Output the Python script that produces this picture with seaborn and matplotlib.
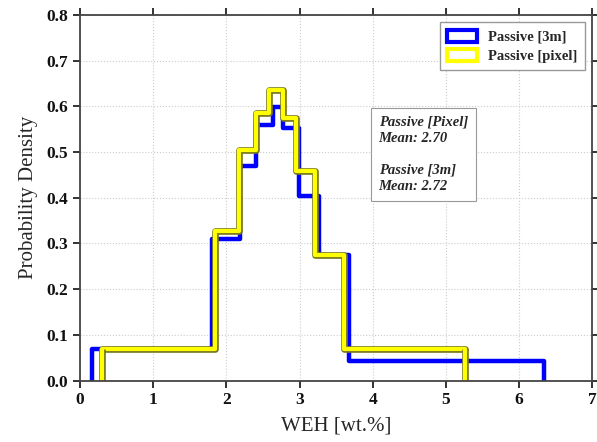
import numpy as np
import pandas as pd
import seaborn as sns
import matplotlib.pyplot as plt
import matplotlib.patheffects as pe
from matplotlib.patches import Patch

# bin edges and probability densities
edges_3m = [0.16, 1.80, 2.18, 2.41, 2.64, 2.78, 2.99, 3.26, 3.67, 6.34]
dens_3m = [0.070, 0.310, 0.470, 0.560, 0.598, 0.552, 0.405, 0.275, 0.042]
edges_pix = [0.30, 1.85, 2.17, 2.40, 2.58, 2.78, 2.95, 3.21, 3.61, 5.26]
dens_pix = [0.070, 0.328, 0.505, 0.585, 0.636, 0.575, 0.458, 0.275, 0.068]
mean_pix = 2.70
mean_3m = 2.72

def centers(e):
    e = np.asarray(e)
    return (e[:-1] + e[1:]) / 2

df3 = pd.DataFrame({'WEH': centers(edges_3m), 'dens': dens_3m})
dfp = pd.DataFrame({'WEH': centers(edges_pix), 'dens': dens_pix})

sns.set_style('ticks')
plt.rcParams['font.family'] = ['Liberation Serif', 'DejaVu Serif']

fig = plt.figure(figsize=(5.97, 4.42), dpi=100)
ax = fig.add_axes([0.134, 0.139, 0.858, 0.827])

olive = [pe.Stroke(linewidth=4.8, foreground='#77771f'), pe.Normal()]

# blue histogram (3m)
sns.histplot(data=df3, x='WEH', weights='dens', bins=edges_3m, stat='count',
             element='step', fill=False, color='#0000ff', linewidth=3.2, ax=ax)
ax.vlines([edges_3m[0], edges_3m[-1]], 0, [dens_3m[0], dens_3m[-1]],
          color='#0000ff', linewidth=3.2)

# yellow histogram (pixel) with dark edge
sns.histplot(data=dfp, x='WEH', weights='dens', bins=edges_pix, stat='count',
             element='step', fill=False, color='#ffff00', linewidth=3, ax=ax)
ax.lines[-1].set_path_effects(olive)
vl = ax.vlines([edges_pix[0], edges_pix[-1]], 0, [dens_pix[0], dens_pix[-1]],
               color='#ffff00', linewidth=3)
vl.set_path_effects(olive)

ax.set_xlim(0, 7)
ax.set_ylim(0, 0.8)
ax.set_xticks(range(0, 8))
ax.set_yticks(np.arange(0, 0.81, 0.1))
ax.set_yticklabels([f'{v:.1f}' for v in np.arange(0, 0.81, 0.1)])
ax.grid(True, color='#cccccc', linestyle=':', linewidth=0.8)
ax.set_axisbelow(True)
for s in ax.spines.values():
    s.set_visible(True)
    s.set_linewidth(1.3)
    s.set_color('#444444')
ax.tick_params(axis='both', direction='out', length=5, width=1.2,
               top=True, right=True, labelsize=12.5, colors='#111111')
for lab in ax.get_xticklabels() + ax.get_yticklabels():
    lab.set_fontweight('bold')

ax.set_xlabel('WEH [wt.%]', fontsize=15, labelpad=6)
ax.set_ylabel('Probability Density', fontsize=15, labelpad=6)

handles = [Patch(facecolor='white', edgecolor='#0000ff', linewidth=3, label='Passive [3m]'),
           Patch(facecolor='white', edgecolor='#ffff00', linewidth=3, label='Passive [pixel]')]
leg = ax.legend(handles=handles, loc='upper right', fancybox=False, framealpha=1,
                edgecolor='#999999', prop={'weight': 'bold', 'size': 10.5},
                borderaxespad=0.5, handlelength=2.0, handleheight=0.9,
                labelspacing=0.35, borderpad=0.5)

ax.text(4.08, 0.58,
        f'Passive [Pixel]\nMean: {mean_pix:.2f}\n\nPassive [3m]\nMean: {mean_3m:.2f}',
        fontsize=10.5, fontweight='bold', fontstyle='italic', va='top', ha='left',
        linespacing=1.3,
        bbox=dict(boxstyle='square,pad=0.55', facecolor='white', edgecolor='#999999', linewidth=0.8))

fig.savefig('out.png', dpi=100)
